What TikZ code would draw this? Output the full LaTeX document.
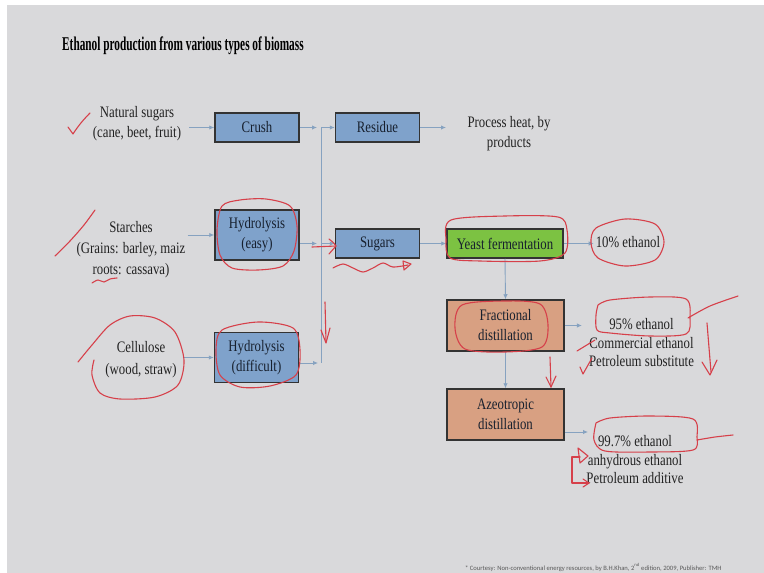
\documentclass[tikz,border=0pt]{standalone}
\usepackage{fontspec}
\setmainfont{Liberation Serif}
\newfontfamily\bodyfamily[FakeStretch=0.8]{Liberation Serif}
\newfontfamily\titlefamily[FakeStretch=0.58]{Liberation Serif}
\newfontfamily\notefamily{Carlito}
\usetikzlibrary{arrows.meta}
\definecolor{bg}{HTML}{D9D9DB}
\definecolor{boxblue}{HTML}{7FA2CB}
\definecolor{boxgreen}{HTML}{7CC242}
\definecolor{boxsalmon}{HTML}{D8A082}
\definecolor{boxline}{HTML}{333333}
\definecolor{boxtext}{HTML}{17202E}
\definecolor{conncol}{HTML}{86A2C0}
\definecolor{txt}{HTML}{222222}
\definecolor{annot}{HTML}{D6404A}
\tikzset{
  box/.style={draw=boxline, line width=1.5pt, minimum width=84pt, minimum height=29pt,
    inner sep=0pt, align=center, text=boxtext,
    font=\bodyfamily\fontsize{16}{20}\selectfont},
  bluebox/.style={box, fill=boxblue},
  greenbox/.style={box, fill=boxgreen, minimum width=116pt},
  salmonbox/.style={box, fill=boxsalmon, minimum width=117pt, minimum height=51pt},
  lbl/.style={align=center, text=txt, inner sep=0pt,
    font=\bodyfamily\fontsize{16}{#1}\selectfont},
  lbl/.default=19,
  conn/.style={draw=conncol, line width=0.9pt, -{Latex[length=5pt,width=4.5pt]}},
  plainline/.style={draw=conncol, line width=0.9pt},
  redpen/.style={draw=annot, line width=1.1pt, line cap=round, line join=round},
}
\begin{document}
\begin{tikzpicture}[x=1pt,y=-1pt]
\useasboundingbox (0,0) rectangle (764,573);
\fill[white] (0,0) rectangle (764,573);
\fill[bg] (7,5) rectangle (764,573);

% title
\node[anchor=west, inner sep=0pt, text=black,
  font=\titlefamily\bfseries\fontsize{19.5}{22}\selectfont] (title) at (62,46)
  {Ethanol production from various types of biomass};

% inputs
\node[lbl=20] (ns) at (137,124) {Natural sugars\\(cane, beet, fruit)};
\node[lbl=21] (st) at (131,250) {Starches\\(Grains: barley, maiz\\roots: cassava)};
\node[lbl=22] (cell) at (141,360) {Cellulose\\(wood, straw)};

% boxes
\node[bluebox] (crush) at (257,127.5) {Crush};
\node[bluebox] (residue) at (377.5,127.5) {Residue};
\node[bluebox, minimum height=50pt] (hyde) at (257,235) {Hydrolysis\\(easy)};
\node[bluebox] (sugars) at (377.5,243.5) {Sugars};
\node[bluebox, minimum height=50pt] (hydd) at (256.5,357.5) {Hydrolysis\\(difficult)};
\node[greenbox] (yeast) at (505,243.5) {Yeast fermentation};
\node[salmonbox] (frac) at (505.5,325.5) {Fractional\\distillation};
\node[salmonbox] (azeo) at (505.5,414.5) {Azeotropic\\distillation};

% outputs
\node[lbl=20] (heat) at (509,134) {Process heat, by\\products};
\node[lbl] (ten) at (628,242) {10\% ethanol};
\node[lbl=18.5] (out95) at (641.5,343) {95\% ethanol\\Commercial ethanol\\Petroleum substitute};
\node[lbl=18.5] (out99) at (635,460) {99.7\% ethanol\\anhydrous ethanol\\Petroleum additive};

% junction coordinates
\coordinate (j1) at (317,127.5);
\coordinate (vt) at (321,127.5);
\coordinate (vb) at (321,363);
\coordinate (j2) at (317,243.5);
\coordinate (v2) at (321,243.5);
\coordinate (j3) at (318,363);
\coordinate (heatin) at (446,127.5);
\coordinate (a99) at (588,432);

% connectors
\draw[conn, shorten <=8pt] (ns.east |- crush.west) -- (crush.west);
\draw[conn] (crush.east) -- (j1);
\draw[plainline] (vt) -- (vb);
\draw[conn] (vt) -- (residue.west);
\draw[conn] (residue.east) -- (heatin);
\draw[conn, shorten <=2pt] (st.east |- hyde.west) -- (hyde.west);
\draw[conn] (hyde.east |- j2) -- (j2);
\draw[conn] (v2) -- (sugars.west);
\draw[conn, shorten <=6pt] (cell.east |- hydd.west) -- (hydd.west);
\draw[conn] (hydd.east |- j3) -- (j3);
\draw[conn] (sugars.east) -- (yeast.west);
\draw[conn, shorten >=2pt] (yeast.east) -- (ten.west |- yeast.east);
\draw[conn] (yeast.south) -- (frac.north);
\draw[conn, shorten >=7pt] (frac.east) -- (out95.west |- frac.east);
\draw[conn] (frac.south) -- (azeo.north);
\draw[conn] (azeo.east |- a99) -- (a99);

% footnote
\node[anchor=base west, inner sep=0pt, text=black!65,
  font=\notefamily\fontsize{6.6}{8}\selectfont] (note) at (465,570)
  {* Courtesy: Non-conventional energy resources, by B.H.Khan, 2\textsuperscript{nd} edition, 2009, Publisher: TMH};

% red handwritten annotations
\begin{scope}[yscale=-1]
\draw[redpen] (68,-127) -- (73,-134) .. controls (78,-126) and (84,-119) .. (90,-113);
\draw[redpen] plot[smooth] coordinates {(55,-256) (70,-241) (84,-225) (95,-210)};
\draw[redpen] plot[smooth] coordinates {(92,-283) (98,-280) (104,-282) (110,-279) (117,-278)};
\draw[redpen] plot[smooth cycle] coordinates {(222,-206) (240,-200) (266,-199) (290,-206) (297,-226) (294,-251) (283,-266) (258,-270) (232,-268) (220,-255) (217,-230)};
\draw[redpen] (312,-247) -- (336,-246);
\draw[redpen] (329,-239) .. controls (334,-243) .. (336,-246) .. controls (333,-250) .. (329,-254);
\draw[redpen] plot[smooth] coordinates {(333,-268) (343,-264) (353,-268) (363,-272) (373,-268) (383,-263) (393,-267) (408,-265)};
\draw[redpen] (403,-261) -- (411,-264) -- (404,-270) -- cycle;
\draw[redpen] plot[smooth cycle] coordinates {(451,-220) (505,-216) (558,-217) (567,-230) (565,-253) (540,-261) (480,-261) (450,-258) (446,-240)};
\draw[redpen] plot[smooth cycle] coordinates {(596,-228) (625,-219) (655,-224) (664,-242) (655,-260) (625,-266) (598,-258) (591,-243)};
\draw[redpen] plot[smooth] coordinates {(78,-362) (92,-345) (110,-325) (130,-316) (155,-318) (175,-332) (184,-360) (178,-385) (155,-397) (120,-399) (100,-393) (92,-375) (94,-360)};
\draw[redpen] plot[smooth cycle] coordinates {(222,-330) (258,-322) (293,-328) (300,-350) (296,-375) (270,-386) (240,-387) (220,-375) (216,-350)};
\draw[redpen] (325,-302) -- (326,-342);
\draw[redpen] (321,-330) -- (326,-343) -- (330,-328);
\draw[redpen] plot[smooth cycle] coordinates {(462,-305) (505,-301) (540,-304) (548,-325) (542,-347) (505,-352) (465,-349) (455,-328)};
\draw[redpen] plot[smooth] coordinates {(598,-305) (610,-300) (650,-297) (686,-299) (690,-318) (686,-334) (650,-336) (610,-333) (597,-330) (596,-315) (598,-305)};
\draw[redpen] plot[smooth] coordinates {(688,-318) (710,-306) (738,-296)};
\draw[redpen] (577,-351) -- (595,-340);
\draw[redpen] (580,-367) -- (583,-374) -- (592,-358);
\draw[redpen] (707,-323) -- (711,-372);
\draw[redpen] (702,-362) -- (710,-375) -- (717,-360);
\draw[redpen] (550,-357) -- (551,-387);
\draw[redpen] (546,-377) -- (551,-387) -- (556,-376);
\draw[redpen] plot[smooth] coordinates {(596,-423) (610,-418) (650,-416) (693,-419) (697,-437) (693,-450) (650,-452) (605,-451) (594,-440) (596,-423)};
\draw[redpen] plot[smooth] coordinates {(697,-440) (715,-437) (733,-435)};
\draw[redpen] (578,-448) -- (588,-456) -- (580,-463) -- cycle;
\draw[redpen] (580,-457) -- (572,-457) -- (572,-483) -- (589,-483);
\draw[redpen] (583,-479) -- (589,-483) -- (583,-487);
\end{scope}
\end{tikzpicture}
\end{document}
